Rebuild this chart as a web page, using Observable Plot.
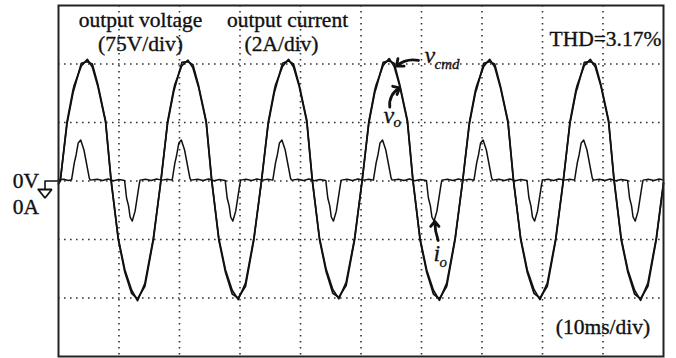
<!DOCTYPE html>
<html><head><meta charset="utf-8">
<script src="https://cdn.jsdelivr.net/npm/d3@7"></script>
<script src="https://cdn.jsdelivr.net/npm/@observablehq/plot@0.6"></script>
<style>
html,body{margin:0;padding:0;background:#fff;}
#chart{width:676px;height:358px;overflow:hidden;}
</style></head><body><div id="chart"></div>
<script>
// time axis (ms), 10 ms/div
const vTime = [0,
0.30,1.40,2.40,2.61,3.77,4.76,5.59,6.53,7.78,8.69,9.88,10.97,12.08,13.07,14.28,15.67,
16.93,18.03,19.03,19.24,20.40,21.39,22.22,23.16,24.41,25.32,26.51,27.60,28.71,29.70,30.91,32.30,
33.56,34.66,35.66,35.87,37.03,38.02,38.85,39.79,41.04,41.95,43.14,44.23,45.34,46.33,47.54,48.93,
50.19,51.29,52.29,52.50,53.66,54.65,55.48,56.42,57.67,58.58,59.77,60.86,61.97,62.96,64.17,65.56,
66.81,67.91,68.91,69.12,70.28,71.27,72.10,73.04,74.29,75.20,76.39,77.48,78.59,79.58,80.79,82.18,
83.44,84.54,85.54,85.75,86.91,87.90,88.73,89.67,90.92,91.83,93.02,94.11,95.22,96.21,97.42,98.81,
100];
// command voltage v_cmd (V), 75 V/div
const vCmd = [-3,
0,75.6,116.7,123.1,147.4,156,146.2,120.5,75.6,0,-73.5,-114.1,-139.7,-153.5,-131.2,-73.5,
0,76,117,124,148,155,145,120,75,0,-74,-114,-140,-152,-131,-73,
0,75,116,123,147,156,146,121,76,0,-73,-113,-139,-151,-130,-74,
0,76,117,123,148,157,147,121,76,0,-74,-114,-140,-153,-131,-73,
0,75,116,122,147,156,146,120,75,0,-73,-114,-139,-152,-131,-74,
0,76,117,123,148,156,146,121,76,0,-74,-114,-140,-153,-131,-73,
-2];
// output voltage v_o (V)
const vOut = [-4,
1,73,113,119,151,153,150,123,77,2,-75,-117,-144,-151,-135,-76,
1,74,114,120,152,153,149,122,77,2,-76,-117,-145,-150,-135,-75,
1,73,113,119,151,154,150,123,78,2,-75,-116,-144,-149,-134,-76,
1,74,114,119,152,154,151,123,78,2,-76,-117,-145,-151,-135,-75,
1,73,113,118,151,153,150,122,77,2,-75,-117,-144,-150,-135,-76,
1,74,114,119,152,153,150,123,78,2,-76,-117,-145,-151,-135,-75,
-3];
// output current i_o (A), 2 A/div
const iTime = [0,0.9,1.6,
2.16,2.61,2.91,3.26,3.67,4.21,5.09,5.26,6.4,7.3,8.2,9.1,10.0,
10.92,11.25,11.58,11.83,12.19,12.66,13.32,13.48,14.4,15.3,16.2,17.1,18.0,
18.79,19.24,19.54,19.89,20.30,20.84,21.72,21.89,23.0,23.9,24.8,25.7,26.6,
27.55,27.88,28.21,28.46,28.82,29.29,29.95,30.11,31.0,31.9,32.8,33.7,34.6,
35.42,35.87,36.17,36.52,36.93,37.47,38.35,38.52,39.6,40.5,41.4,42.3,43.2,
44.18,44.51,44.84,45.09,45.45,45.92,46.58,46.74,47.7,48.6,49.5,50.4,51.3,
52.05,52.50,52.80,53.15,53.56,54.10,54.98,55.15,56.2,57.1,58.0,58.9,59.8,
60.81,61.14,61.47,61.72,62.08,62.55,63.21,63.37,64.3,65.2,66.1,67.0,67.9,
68.67,69.12,69.42,69.77,70.18,70.72,71.60,71.77,72.8,73.7,74.6,75.5,76.4,
77.43,77.76,78.09,78.34,78.70,79.17,79.83,79.99,80.9,81.8,82.7,83.6,84.5,
85.30,85.75,86.05,86.40,86.81,87.35,88.23,88.40,89.4,90.3,91.2,92.1,93.0,
94.06,94.39,94.72,94.97,95.33,95.80,96.46,96.62,97.5,98.4,99.3,100];
const iOut = [0.04,0.06,0.02,
0.04,0.62,0.89,1.30,1.40,1.06,0.10,0.03,0.06,0.02,0.07,0.01,0.05,
0.02,-0.58,-0.85,-1.23,-1.37,-1.03,-0.14,0.03,0.06,0.02,0.07,0.03,0.06,
0.03,0.62,0.89,1.30,1.40,1.06,0.10,0.03,0.06,0.02,0.07,0.01,0.05,
0.02,-0.58,-0.85,-1.23,-1.37,-1.03,-0.14,0.03,0.06,0.02,0.07,0.03,0.06,
0.03,0.62,0.89,1.30,1.40,1.06,0.10,0.03,0.06,0.02,0.07,0.01,0.05,
0.02,-0.58,-0.85,-1.23,-1.37,-1.03,-0.14,0.03,0.06,0.02,0.07,0.03,0.06,
0.03,0.62,0.89,1.30,1.40,1.06,0.10,0.03,0.06,0.02,0.07,0.01,0.05,
0.02,-0.58,-0.85,-1.23,-1.37,-1.03,-0.14,0.03,0.06,0.02,0.07,0.03,0.06,
0.03,0.62,0.89,1.30,1.40,1.06,0.10,0.03,0.06,0.02,0.07,0.01,0.05,
0.02,-0.58,-0.85,-1.23,-1.37,-1.03,-0.14,0.03,0.06,0.02,0.07,0.03,0.06,
0.03,0.62,0.89,1.30,1.40,1.06,0.10,0.03,0.06,0.02,0.07,0.01,0.05,
0.02,-0.58,-0.85,-1.23,-1.37,-1.03,-0.14,0.03,0.06,0.02,0.07,0.03];
const gridTimes = [10,20,30,40,50,60,70,80,90];
const gridDivs = [-2,-1,0,1,2];
const voltsPerDiv = 75, ampsPerDiv = 2;

const vData = vTime.map((t, k) => ({t, cmd: vCmd[k] / voltsPerDiv, out: vOut[k] / voltsPerDiv}));
const iData = iTime.map((t, k) => ({t, a: iOut[k] / ampsPerDiv}));

const serif = "'Liberation Serif','Times New Roman',serif";
const ink = "#111";
const txt = {fontSize: 21.5, lineAnchor: "bottom", fill: ink, stroke: ink, strokeWidth: 0.35};
const ital = {fontStyle: "italic", textAnchor: "start", lineAnchor: "bottom", fill: ink, stroke: ink, strokeWidth: 0.3};

const plot = Plot.plot({
  width: 676, height: 358,
  marginLeft: 58, marginRight: 13, marginTop: 5, marginBottom: 2,
  x: {domain: [0, 100], axis: null},
  y: {domain: [-3, 3], axis: null},
  style: {fontFamily: serif, background: "#fff", color: ink},
  marks: [
    Plot.ruleX(gridTimes, {stroke: "#333", strokeWidth: 1.6, strokeDasharray: "1.6,4.4"}),
    Plot.ruleY(gridDivs, {stroke: "#333", strokeWidth: 1.6, strokeDasharray: "1.6,4.4"}),
    Plot.line(iData, {x: "t", y: "a", stroke: ink, strokeWidth: 1.5}),
    Plot.line(vData, {x: "t", y: "out", stroke: ink, strokeWidth: 1.7}),
    Plot.line(vData, {x: "t", y: "cmd", stroke: ink, strokeWidth: 1.7}),
    // header annotations
    Plot.text(["output voltage"], {x: 13.55, y: 2.64, ...txt}),
    Plot.text(["(75V/div)"], {x: 13.55, y: 2.23, ...txt}),
    Plot.text(["output current"], {x: 37.85, y: 2.64, ...txt}),
    Plot.text(["(2A/div)"], {x: 36.86, y: 2.23, ...txt}),
    Plot.text(["THD=3.17%"], {x: 90.41, y: 2.316, ...txt}),
    Plot.text(["(10ms/div)"], {x: 90.0, y: -2.607, ...txt}),
    // zero markers
    Plot.text(["0V"], {x: -5.37, y: -0.128, ...txt}),
    Plot.text(["0A"], {x: -5.37, y: -0.556, ...txt}),
    Plot.line([[0, 0], [-2.23, 0], [-2.23, -0.145]], {stroke: ink, strokeWidth: 1.6}),
    Plot.line([[-3.35, -0.145], [-1.11, -0.145], [-2.23, -0.29], [-3.35, -0.145]], {stroke: ink, strokeWidth: 1.8, strokeLinejoin: "miter"}),
    // trace labels
    Plot.text(["v"], {x: 60.5, y: 2.009, fontSize: 24, ...ital}),
    Plot.text(["cmd"], {x: 62.15, y: 1.906, fontSize: 15, ...ital}),
    Plot.text(["v"], {x: 53.72, y: 0.983, fontSize: 24, ...ital}),
    Plot.text(["o"], {x: 55.37, y: 0.915, fontSize: 15, ...ital}),
    Plot.text(["i"], {x: 62.0, y: -1.359, fontSize: 24, ...ital}),
    Plot.text(["o"], {x: 62.98, y: -1.462, fontSize: 15, ...ital}),
    Plot.arrow([0], {x1: 59.5, y1: 2.06, x2: 55.87, y2: 1.966, bend: -25, stroke: ink, strokeWidth: 2.8, headLength: 7, headAngle: 80}),
    Plot.arrow([0], {x1: 54.76, y1: 1.262, x2: 56.41, y2: 1.593, bend: 35, stroke: ink, strokeWidth: 2.8, headLength: 7, headAngle: 80}),
    Plot.arrow([0], {x1: 62.76, y1: -1.017, x2: 62.20, y2: -0.692, bend: 10, stroke: ink, strokeWidth: 2.8, headLength: 7, headAngle: 80}),
    Plot.frame({stroke: "#222", strokeWidth: 2})
  ]
});
document.getElementById("chart").appendChild(plot);
</script>
</body></html>
